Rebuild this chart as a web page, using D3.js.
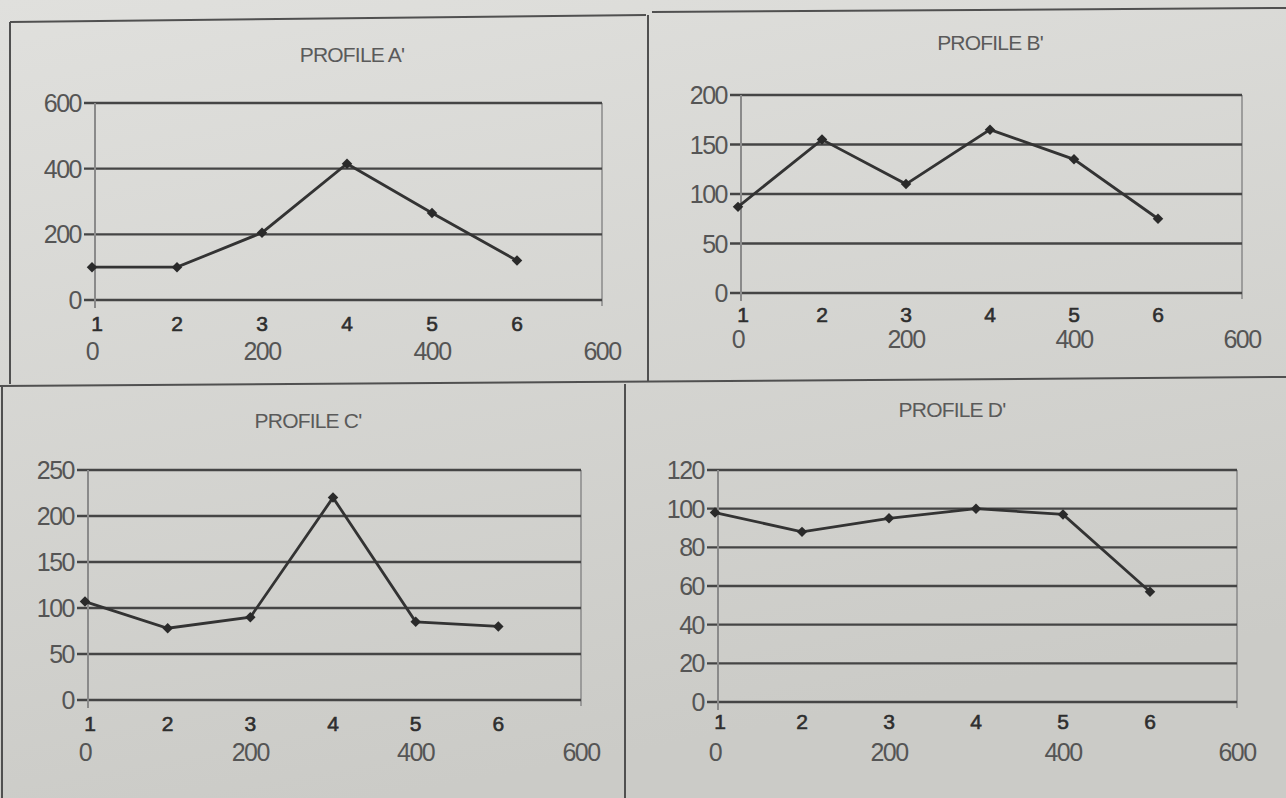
<!DOCTYPE html>
<html>
<head>
<meta charset="utf-8">
<script src="https://cdn.jsdelivr.net/npm/d3@7"></script>
<style>
  html, body { margin: 0; padding: 0; background: #d6d6d3; }
  svg { display: block; }
</style>
</head>
<body>
<div id="chart"></div>
<script>
// Profile data: six stations at 100 m spacing
const categories = ['1', '2', '3', '4', '5', '6'];
const distances = [0, 100, 200, 300, 400, 500];
const xTicks = [0, 200, 400, 600];

const profileA = [100, 100, 205, 415, 265, 120];
const profileB = [87, 155, 110, 165, 135, 75];
const profileC = [107, 78, 90, 220, 85, 80];
const profileD = [98, 88, 95, 100, 97, 57];

const titles = ["PROFILE A'", "PROFILE B'", "PROFILE C'", "PROFILE D'"];
const yMax = [600, 200, 250, 120];
const yTicksA = [0, 200, 400, 600];
const yTicksB = [0, 50, 100, 150, 200];
const yTicksC = [0, 50, 100, 150, 200, 250];
const yTicksD = [0, 20, 40, 60, 80, 100, 120];

// panel placement on the page
const layouts = [
  { left: 92, right: 602, top: 103, bottom: 300, titleX: 352, titleY: 62, catY: 331, numY: 360 },
  { left: 738, right: 1242, top: 95, bottom: 293, titleX: 990, titleY: 50, catY: 322, numY: 348 },
  { left: 85, right: 581, top: 470, bottom: 700, titleX: 308, titleY: 428, catY: 731, numY: 761 },
  { left: 715, right: 1237, top: 470, bottom: 702, titleX: 952, titleY: 417, catY: 729, numY: 761 }
];

const panels = [
  { values: profileA, ticks: yTicksA },
  { values: profileB, ticks: yTicksB },
  { values: profileC, ticks: yTicksC },
  { values: profileD, ticks: yTicksD }
];

const W = 1286, H = 798;
const ink = '#333333';
const grey = '#555555';
const font = 'Liberation Sans, Arial, sans-serif';

const svg = d3.select('#chart').append('svg')
  .attr('width', W)
  .attr('height', H);

// photographed paper background
const grad = svg.append('defs').append('linearGradient')
  .attr('id', 'paper')
  .attr('x1', 0).attr('y1', 0).attr('x2', 0.3).attr('y2', 1);
grad.append('stop').attr('offset', '0%').attr('stop-color', '#e0e0dd');
grad.append('stop').attr('offset', '100%').attr('stop-color', '#cbcbc7');
svg.append('rect').attr('width', W).attr('height', H).attr('fill', 'url(#paper)');

// panel frame lines
const frames = [
  [10, 22, 646, 15], [10, 22, 10, 384], [648, 15, 648, 381],
  [0, 386, 1286, 377], [652, 12, 1286, 8], [625, 384, 625, 798], [2, 386, 2, 798]
];
svg.append('g').selectAll('line').data(frames).join('line')
  .attr('x1', d => d[0]).attr('y1', d => d[1])
  .attr('x2', d => d[2]).attr('y2', d => d[3])
  .attr('stroke', '#505050').attr('stroke-width', 2);

panels.forEach((p, i) => {
  const L = layouts[i];
  const g = svg.append('g');

  const x = d3.scaleLinear().domain([0, 600]).range([L.left, L.right]);
  const y = d3.scaleLinear().domain([0, yMax[i]]).range([L.bottom, L.top]);

  // title
  g.append('text')
    .attr('x', L.titleX).attr('y', L.titleY)
    .attr('text-anchor', 'middle')
    .attr('font-family', font)
    .attr('font-size', 21)
    .attr('letter-spacing', -0.8)
    .attr('fill', '#5a5a5a')
    .text(titles[i]);

  // right edge of plot area
  g.append('line')
    .attr('x1', x(600)).attr('x2', x(600))
    .attr('y1', y(yMax[i])).attr('y2', y(0) + 6)
    .attr('stroke', '#8a8a8a').attr('stroke-width', 1.5);

  // gridlines (extend left as tick marks)
  g.append('g').selectAll('line').data(p.ticks).join('line')
    .attr('x1', x(0) - 8).attr('x2', x(600))
    .attr('y1', d => y(d)).attr('y2', d => y(d))
    .attr('stroke', '#454545').attr('stroke-width', 2.4);

  // y axis line
  g.append('line')
    .attr('x1', x(0) + 3).attr('x2', x(0) + 3)
    .attr('y1', y(yMax[i])).attr('y2', y(0) + 8)
    .attr('stroke', '#8a8a8a').attr('stroke-width', 2);

  // y tick labels
  g.append('g').selectAll('text').data(p.ticks).join('text')
    .attr('x', x(0) - 11)
    .attr('y', d => y(d) + 9)
    .attr('text-anchor', 'end')
    .attr('font-family', font)
    .attr('font-size', 25)
    .attr('letter-spacing', -1.5)
    .attr('fill', grey)
    .text(d => d);

  // category labels 1..6
  g.append('g').selectAll('text').data(categories).join('text')
    .attr('x', (d, j) => x(distances[j]) + (j === 0 ? 5 : 0))
    .attr('y', L.catY)
    .attr('text-anchor', 'middle')
    .attr('font-family', font)
    .attr('font-size', 21)
    .attr('fill', '#2e2e2e')
    .attr('stroke', '#2e2e2e')
    .attr('stroke-width', 0.6)
    .text(d => d);

  // distance labels
  g.append('g').selectAll('text').data(xTicks).join('text')
    .attr('x', d => x(d))
    .attr('y', L.numY)
    .attr('text-anchor', 'middle')
    .attr('font-family', font)
    .attr('font-size', 25)
    .attr('letter-spacing', -1.5)
    .attr('fill', grey)
    .text(d => d);

  // profile line
  const pts = p.values.map((v, j) => [distances[j], v]);
  g.append('path')
    .datum(pts)
    .attr('fill', 'none')
    .attr('stroke', ink)
    .attr('stroke-width', 2.8)
    .attr('d', d3.line().x(d => x(d[0])).y(d => y(d[1])));

  // diamond markers
  g.append('g').selectAll('path').data(pts).join('path')
    .attr('transform', d => `translate(${x(d[0])},${y(d[1])})`)
    .attr('d', d3.symbol().type(d3.symbolDiamond2).size(70))
    .attr('fill', '#2a2a2a');
});
</script>
</body>
</html>
